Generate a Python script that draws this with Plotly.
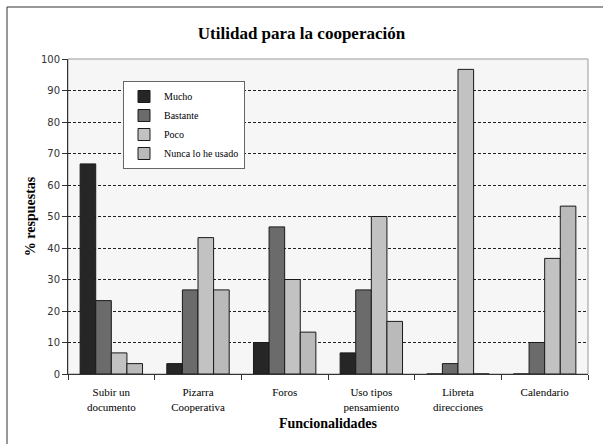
import plotly.graph_objects as go

categorias = ["Subir un<br>documento", "Pizarra<br>Cooperativa", "Foros",
              "Uso tipos<br>pensamiento", "Libreta<br>direcciones", "Calendario"]
mucho = [66.7, 3.3, 10.0, 6.7, 0, 0]
bastante = [23.3, 26.7, 46.7, 26.7, 3.3, 10.0]
poco = [6.7, 43.3, 30.0, 50.0, 96.7, 36.7]
nunca = [3.3, 26.7, 13.3, 16.7, 0, 53.3]

series = [
    ("Mucho", mucho, "#262626"),
    ("Bastante", bastante, "#6b6b6b"),
    ("Poco", poco, "#c2c2c2"),
    ("Nunca lo he usado", nunca, "#bababa"),
]

fig = go.Figure()
for nombre, valores, color in series:
    fig.add_trace(go.Bar(
        x=categorias, y=valores, name=nombre,
        marker=dict(color=color, line=dict(color="#1a1a1a", width=1)),
    ))

serif = "Times New Roman, Liberation Serif, DejaVu Serif, serif"

fig.update_layout(
    width=603, height=444,
    margin=dict(l=68, r=15, t=59, b=70),
    paper_bgcolor="white",
    plot_bgcolor="#f6f6f6",
    barmode="group",
    bargap=0.28,
    bargroupgap=0,
    title=dict(text="<b>Utilidad para la cooperación</b>", x=0.5, xanchor="center",
               y=1 - 33 / 444, yanchor="middle",
               font=dict(family=serif, size=17, color="black")),
    font=dict(family=serif, color="black"),
    legend=dict(x=(123 - 68) / 520, y=(374 - 81) / 315, xanchor="left", yanchor="top",
                bgcolor="white", bordercolor="#666", borderwidth=1,
                font=dict(family=serif, size=10, color="black"), tracegroupgap=0,
                itemwidth=30),
    showlegend=True,
)

fig.update_yaxes(
    range=[0, 100], dtick=10,
    showgrid=True, gridcolor="#222", griddash="3px,2px", gridwidth=1,
    ticks="outside", ticklen=5, tickcolor="#333",
    showline=True, linecolor="#333", linewidth=1,
    tickfont=dict(family="DejaVu Sans", size=10, color="#333"),
    title=dict(text="<b>% respuestas</b>", font=dict(family=serif, size=14), standoff=2),
    zeroline=False,
)
fig.update_xaxes(
    ticks="outside", ticklen=5, tickcolor="#333", tickson="boundaries",
    ticklabelstandoff=8,
    showline=True, linecolor="#333", linewidth=1,
    tickfont=dict(family=serif, size=11, color="black"),
    title=dict(text="<b>Funcionalidades</b>", font=dict(family=serif, size=14), standoff=6),
    mirror=False,
)

# borde del área de trazado y del gráfico
fig.add_shape(type="rect", xref="paper", yref="paper", x0=0, x1=1, y0=0, y1=1,
              line=dict(color="#999", width=1), fillcolor="rgba(0,0,0,0)", layer="below")
fig.add_shape(type="rect", xref="paper", yref="paper",
              x0=(7 - 68) / 520, x1=(620 - 68) / 520,
              y0=(374 - 460) / 315, y1=(374 - 7) / 315,
              line=dict(color="#333", width=1), fillcolor="rgba(0,0,0,0)")

fig.write_html("out.html", config={"displayModeBar": False},
               post_script="document.body.style.margin='0';")
